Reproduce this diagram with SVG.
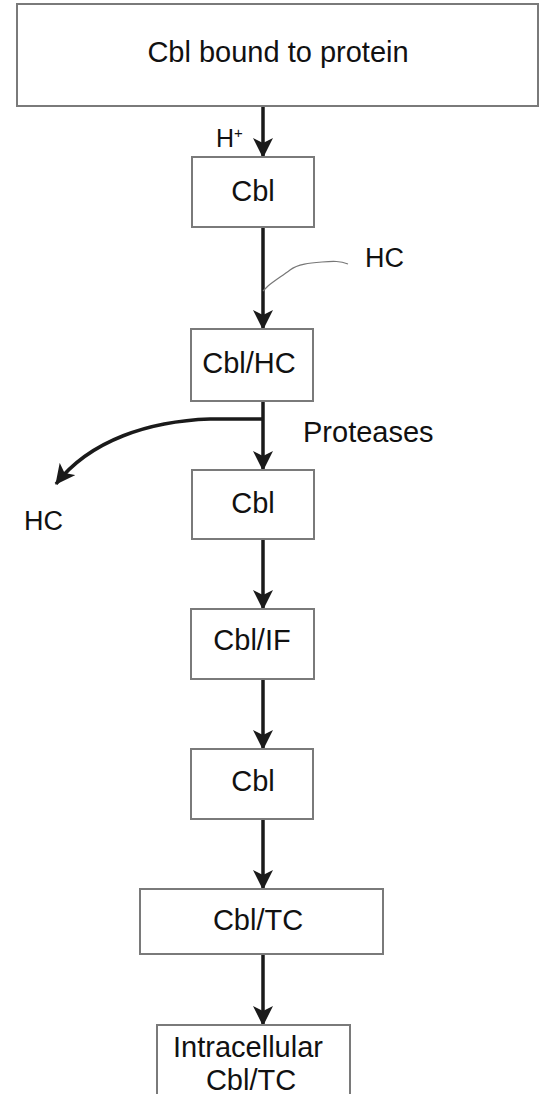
<svg xmlns="http://www.w3.org/2000/svg" width="539" height="1094" viewBox="0 0 539 1094">
<style>
.box{fill:#fff;stroke:#7a7a7a;stroke-width:2}
.lbl{font-family:"Liberation Sans",Arial,sans-serif;font-size:29px;fill:#111}
.arr{stroke:#1a1a1a;stroke-width:3.5;fill:none}
.thin{stroke:#777;stroke-width:1.2;fill:none}
</style>
<defs>
<marker id="ah" markerUnits="userSpaceOnUse" markerWidth="20" markerHeight="20" refX="19" refY="10" orient="auto" viewBox="0 0 20 20">
<path d="M0,0 L20,10 L0,20 L5,10 Z" fill="#1a1a1a"/>
</marker>
</defs>
<rect width="539" height="1094" fill="#fff"/>
<g id="connectors">
<line class="arr" x1="263" y1="106" x2="263" y2="157" marker-end="url(#ah)"/>
<line class="arr" x1="263" y1="227" x2="263" y2="329" marker-end="url(#ah)"/>
<path class="thin" d="M263,291 L268,286 C274,281 282,276 290,270 C298,264 310,263 322,262 C334,261 340,261 348,264"/>
<line class="arr" x1="263" y1="401" x2="263" y2="470" marker-end="url(#ah)"/>
<path class="arr" d="M263,419 L210,419 C150,421 90,440 56,484" marker-end="url(#ah)"/>
<line class="arr" x1="263" y1="539" x2="263" y2="609" marker-end="url(#ah)"/>
<line class="arr" x1="263" y1="679" x2="263" y2="749" marker-end="url(#ah)"/>
<line class="arr" x1="263" y1="819" x2="263" y2="889" marker-end="url(#ah)"/>
<line class="arr" x1="263" y1="954" x2="263" y2="1025" marker-end="url(#ah)"/>
</g>
<g id="n-top">
<rect class="box" x="17" y="4" width="521" height="102"/>
<text class="lbl" x="278" y="62" text-anchor="middle">Cbl bound to protein</text>
</g>
<g id="lbl-h">
<text class="lbl" x="216" y="147" style="font-size:25px">H<tspan dy="-9" style="font-size:15px">+</tspan></text>
</g>
<g id="n-cbl1">
<rect class="box" x="192" y="157" width="122" height="70"/>
<text class="lbl" x="253" y="201" text-anchor="middle">Cbl</text>
</g>
<g id="lbl-hc1">
<text class="lbl" x="365" y="267" style="font-size:27px">HC</text>
</g>
<g id="n-cblhc">
<rect class="box" x="191" y="329" width="122" height="72"/>
<text class="lbl" x="249" y="373" text-anchor="middle">Cbl/HC</text>
</g>
<g id="lbl-prot">
<text class="lbl" x="303" y="442">Proteases</text>
</g>
<g id="lbl-hc2">
<text class="lbl" x="24" y="530" style="font-size:27px">HC</text>
</g>
<g id="n-cbl2">
<rect class="box" x="192" y="470" width="122" height="69"/>
<text class="lbl" x="253" y="513" text-anchor="middle">Cbl</text>
</g>
<g id="n-cblif">
<rect class="box" x="191" y="609" width="123" height="70"/>
<text class="lbl" x="252" y="650" text-anchor="middle">Cbl/IF</text>
</g>
<g id="n-cbl3">
<rect class="box" x="191" y="749" width="122" height="70"/>
<text class="lbl" x="253" y="791" text-anchor="middle">Cbl</text>
</g>
<g id="n-cbltc">
<rect class="box" x="140" y="889" width="243" height="65"/>
<text class="lbl" x="258" y="930" text-anchor="middle">Cbl/TC</text>
</g>
<g id="n-intra">
<rect class="box" x="157" y="1025" width="193" height="80"/>
<text class="lbl" x="248" y="1057" text-anchor="middle">Intracellular</text>
<text class="lbl" x="251" y="1090" text-anchor="middle">Cbl/TC</text>
</g>
</svg>
